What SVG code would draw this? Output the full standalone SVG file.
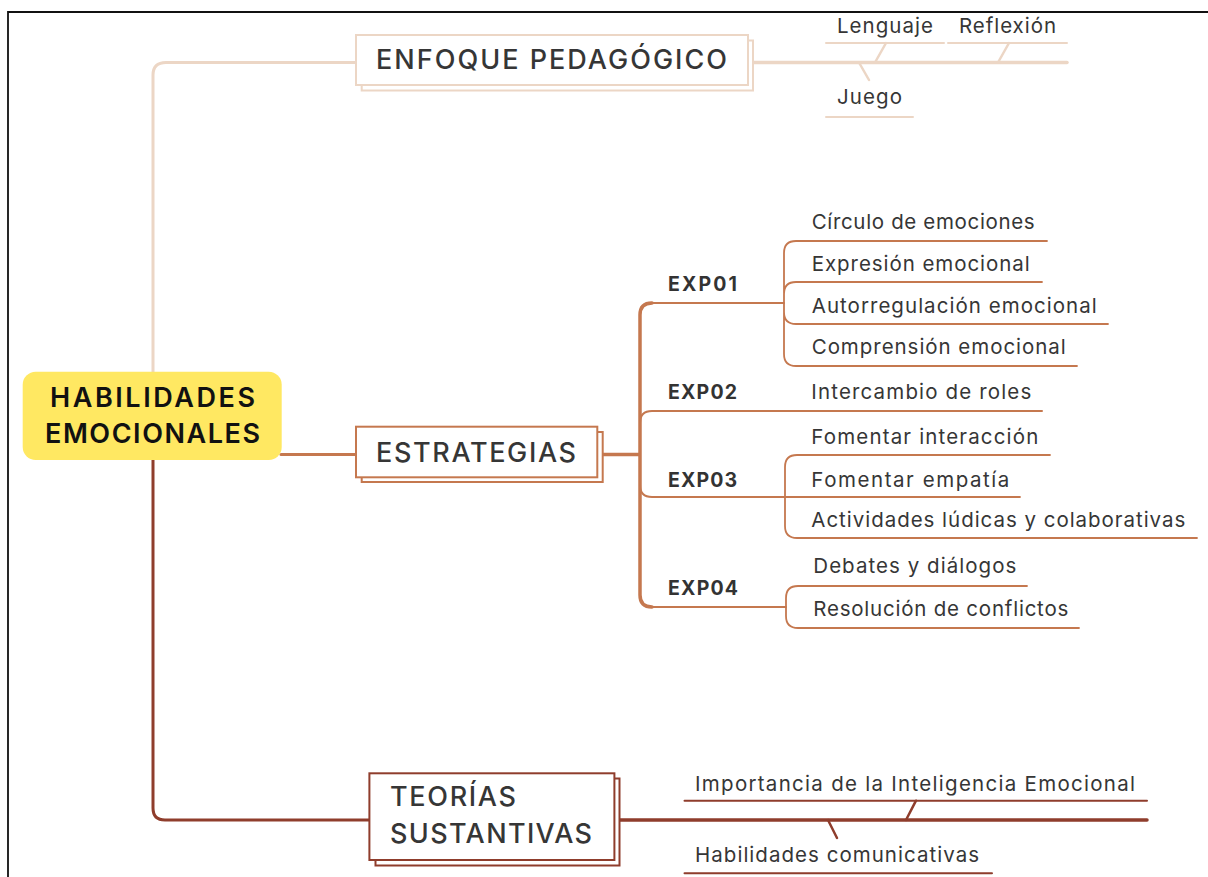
<svg xmlns="http://www.w3.org/2000/svg" width="1208" height="877" viewBox="0 0 1208 877">
<style>
  text { font-family: Inter, "Noto Sans", sans-serif; fill: #363636; }
  .head { font-size: 27px; font-weight: 500; }
  .root { font-size: 27px; font-weight: 600; fill: #111111; }
  .exp { font-size: 19.5px; font-weight: 700; fill: #333333; }
  .leaf { font-size: 20.5px; }
  .light { stroke: #ecd6c5; fill: none; }
  .terra { stroke: #c5784f; fill: none; }
  .dark { stroke: #8f3d2c; fill: none; }
  .boxL { stroke: #ecd6c5; fill: #ffffff; stroke-width: 2; }
  .boxT { stroke: #c5784f; fill: #ffffff; stroke-width: 2; }
  .boxD { stroke: #8f3d2c; fill: #ffffff; stroke-width: 2; }
</style>
<rect width="1208" height="877" fill="#ffffff"/>
<path d="M8 877 V12 H1208" fill="none" stroke="#111111" stroke-width="1.8"/>

<g id="connectors" stroke-linecap="round">
  <!-- Enfoque branch -->
  <path class="light" stroke-width="3" d="M153 372 V75 Q153 62.5 166 62.5 H356"/>
  <path class="light" stroke-width="3.5" d="M753 62.5 H1067"/>
  <path class="light" stroke-width="2" d="M826 43 H944 M948 43 H1067 M826 117 H913"/>
  <path class="light" stroke-width="2.5" d="M886 43 L875 62.5 M1009 43 L998 62.5 M859 62.5 L869 80"/>
  <!-- Estrategias branch -->
  <path class="terra" stroke-width="3" d="M281 454.5 H356"/>
  <path class="terra" stroke-width="3.5" d="M603 454.5 H640 M652 303 Q640 303 640 315 V595 Q640 607 652 607"/>
  <path class="terra" stroke-width="2" d="M652 303 H784 M640 423 Q640 411 652 411 H1042 M640 485 Q640 497 652 497 H785 M652 607 H786"/>
  <path class="terra" stroke-width="1.8" d="M784 303 V253 Q784 241 796 241 H1047 M784 303 V294 Q784 282 796 282 H1042 M784 303 V312 Q784 324 796 324 H1108 M784 303 V354 Q784 366 796 366 H1077"/>
  <path class="terra" stroke-width="1.8" d="M785 497 V467 Q785 455 797 455 H1050 M785 497 H1020 M785 497 V526 Q785 538 797 538 H1197"/>
  <path class="terra" stroke-width="1.8" d="M786 607 V598 Q786 586 798 586 H1027 M786 607 V616 Q786 628 798 628 H1079"/>
  <!-- Teorias branch -->
  <path class="dark" stroke-width="3" d="M153 460 V808 Q153 820 165 820 H369"/>
  <path class="dark" stroke-width="3.5" d="M620 820 H1147"/>
  <path class="dark" stroke-width="2" d="M684.5 800.7 H1147 M684.5 873.3 H992"/>
  <path class="dark" stroke-width="2.5" d="M916 800.7 L906 820 M828 820 L837 838"/>
</g>

<g id="root">
  <rect x="22.7" y="371.7" width="259" height="88.3" rx="13" fill="#ffe862"/>
  <text class="root" x="50" y="407" textLength="205">HABILIDADES</text>
  <text class="root" x="45" y="443" textLength="215">EMOCIONALES</text>
</g>

<g id="enfoque">
  <rect class="boxL" x="361.7" y="40.5" width="391.3" height="50"/>
  <rect class="boxL" x="356" y="35" width="392" height="50"/>
  <text class="head" x="376" y="68.5" textLength="351">ENFOQUE PEDAGÓGICO</text>
</g>
<g id="lenguaje"><text class="leaf" x="837" y="33" textLength="96">Lenguaje</text></g>
<g id="reflexion"><text class="leaf" x="959" y="33" textLength="97">Reflexión</text></g>
<g id="juego"><text class="leaf" x="837" y="104" textLength="65">Juego</text></g>

<g id="estrategias">
  <rect class="boxT" x="361.7" y="432" width="241" height="50"/>
  <rect class="boxT" x="356" y="426.7" width="241.3" height="50.6"/>
  <text class="head" x="376" y="462" textLength="200">ESTRATEGIAS</text>
</g>

<g id="exp01"><text class="exp" x="668" y="291" textLength="69">EXP01</text></g>
<g id="exp02"><text class="exp" x="668" y="399" textLength="69">EXP02</text></g>
<g id="exp03"><text class="exp" x="668" y="487" textLength="69">EXP03</text></g>
<g id="exp04"><text class="exp" x="668" y="595" textLength="70">EXP04</text></g>

<g id="circulo"><text class="leaf" x="811.7" y="229" textLength="223">Círculo de emociones</text></g>
<g id="expresion"><text class="leaf" x="811.7" y="271" textLength="218">Expresión emocional</text></g>
<g id="autorregulacion"><text class="leaf" x="811.7" y="313" textLength="285">Autorregulación emocional</text></g>
<g id="comprension"><text class="leaf" x="811.7" y="354" textLength="254">Comprensión emocional</text></g>
<g id="intercambio"><text class="leaf" x="811.3" y="399" textLength="220">Intercambio de roles</text></g>
<g id="interaccion"><text class="leaf" x="811.3" y="444" textLength="227">Fomentar interacción</text></g>
<g id="empatia"><text class="leaf" x="811.3" y="487" textLength="198">Fomentar empatía</text></g>
<g id="actividades"><text class="leaf" x="811.3" y="527" textLength="374">Actividades lúdicas y colaborativas</text></g>
<g id="debates"><text class="leaf" x="813.3" y="573" textLength="203">Debates y diálogos</text></g>
<g id="resolucion"><text class="leaf" x="813.3" y="616" textLength="255">Resolución de conflictos</text></g>

<g id="teorias">
  <rect class="boxD" x="375.5" y="778.5" width="244" height="87"/>
  <rect class="boxD" x="369.4" y="773.3" width="245" height="86.7"/>
  <text class="head" x="390" y="806" textLength="126">TEORÍAS</text>
  <text class="head" x="390" y="843" textLength="202">SUSTANTIVAS</text>
</g>
<g id="importancia"><text class="leaf" x="695" y="791" textLength="440">Importancia de la Inteligencia Emocional</text></g>
<g id="comunicativas"><text class="leaf" x="695" y="862" textLength="284">Habilidades comunicativas</text></g>
</svg>
